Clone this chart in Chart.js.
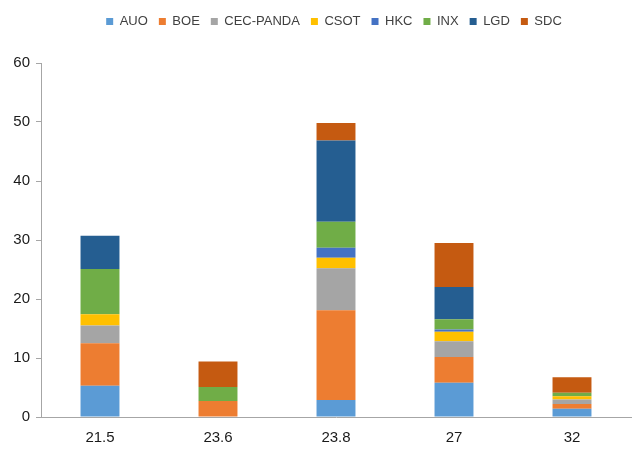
<!DOCTYPE html>
<html>
<head>
<meta charset="utf-8">
<script src="https://cdn.jsdelivr.net/npm/chart.js@4/dist/chart.umd.min.js"></script>
<style>
html,body{margin:0;padding:0;background:#fff;}
#wrap{width:640px;height:461px;}
</style>
</head>
<body>
<div id="wrap"><canvas id="c" width="640" height="461"></canvas></div>
<script>
const categories = ['21.5', '23.6', '23.8', '27', '32'];
const seriesNames = ['AUO', 'BOE', 'CEC-PANDA', 'CSOT', 'HKC', 'INX', 'LGD', 'SDC'];
const AUO = [5.3, 0, 2.9, 5.8, 1.4];
const BOE = [7.2, 2.7, 15.2, 4.35, 0.8];
const CEC = [3.0, 0, 7.1, 2.7, 0.75];
const CSOT = [1.9, 0, 1.8, 1.6, 0.55];
const HKC = [0, 0, 1.7, 0.4, 0];
const INX = [7.7, 2.4, 4.4, 1.7, 0.6];
const LGD = [5.6, 0, 13.75, 5.5, 0];
const SDC = [0, 4.3, 3.0, 7.45, 2.65];
const yTicks = [0, 10, 20, 30, 40, 50, 60];
const colors = ['#5B9BD5', '#ED7D31', '#A5A5A5', '#FFC000', '#4472C4', '#70AD47', '#255E91', '#C55A11'];
const values = [AUO, BOE, CEC, CSOT, HKC, INX, LGD, SDC];

const datasets = seriesNames.map((n, i) => ({
  label: n,
  data: values[i],
  backgroundColor: colors[i],
  borderWidth: 0,
  categoryPercentage: 1,
  barPercentage: 0.33
}));

const legendSpace = {
  id: 'legendSpace',
  beforeInit(chart) {
    const origFit = chart.legend.fit;
    chart.legend.fit = function () {
      origFit.bind(chart.legend)();
      this.height += 25;
    };
  },
  afterLayout(chart) {
    // centre the legend over the plot area
    const lg = chart.legend;
    lg.left = chart.chartArea.left - 4;
    lg.right = chart.chartArea.right;
    lg.width = lg.right - lg.left;
  }
};

new Chart(document.getElementById('c'), {
  type: 'bar',
  data: { labels: categories, datasets },
  plugins: [legendSpace],
  options: {
    responsive: false,
    devicePixelRatio: 1,
    animation: false,
    layout: { padding: { left: 0, right: 9, top: 4, bottom: 10 } },
    plugins: {
      tooltip: { enabled: false },
      legend: {
        position: 'top',
        labels: {
          boxWidth: 7, boxHeight: 7,
          color: '#404040',
          padding: 11,
          font: { family: 'Liberation Sans, Arial, sans-serif', size: 13 }
        }
      }
    },
    scales: {
      x: {
        stacked: true,
        grid: { display: false },
        border: { display: true, color: '#a6a6a6', width: 1 },
        ticks: { color: '#1a1a1a', padding: 4, font: { family: 'Liberation Sans, Arial, sans-serif', size: 15 } }
      },
      y: {
        stacked: true,
        min: 0, max: 60,
        afterBuildTicks: (s) => { s.ticks = yTicks.map(v => ({ value: v })); },
        afterFit: (s) => { s.width = 41; },
        grid: { display: true, drawOnChartArea: false, drawTicks: true, tickLength: 5, color: '#a6a6a6' },
        border: { display: true, color: '#a6a6a6', width: 1 },
        ticks: { color: '#1a1a1a', padding: 6, font: { family: 'Liberation Sans, Arial, sans-serif', size: 15 } }
      }
    }
  }
});
</script>
</body>
</html>
